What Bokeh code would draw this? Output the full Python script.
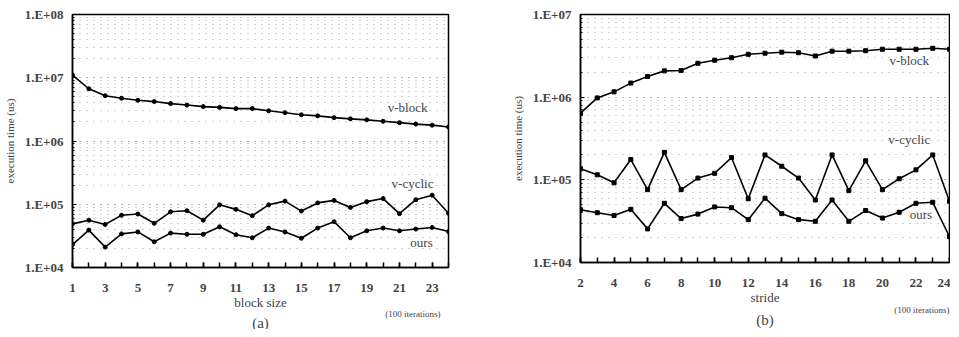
from bokeh.plotting import figure
from bokeh.layouts import row
from bokeh.models import (Range1d, FixedTicker, LogTicker, CustomJSTickFormatter, Label, Title)
from bokeh.embed import file_html
from bokeh.resources import INLINE

# ---------------- data ----------------
block_size = list(range(1, 25))
a_vblock = [1.1e7, 6.7e6, 5.2e6, 4.75e6, 4.4e6, 4.2e6, 3.9e6, 3.7e6, 3.5e6, 3.4e6,
            3.25e6, 3.25e6, 3.0e6, 2.8e6, 2.6e6, 2.5e6, 2.34e6, 2.24e6, 2.16e6,
            2.05e6, 1.95e6, 1.85e6, 1.78e6, 1.66e6]
a_vcyclic = [4.9e4, 5.6e4, 4.8e4, 6.7e4, 7.0e4, 5.0e4, 7.6e4, 7.9e4, 5.6e4, 9.8e4,
             8.3e4, 6.6e4, 9.8e4, 1.12e5, 7.8e4, 1.05e5, 1.15e5, 8.9e4, 1.1e5,
             1.23e5, 7.1e4, 1.18e5, 1.39e5, 7.2e4]
a_ours = [2.3e4, 3.9e4, 2.1e4, 3.4e4, 3.65e4, 2.55e4, 3.5e4, 3.35e4, 3.35e4, 4.4e4,
          3.3e4, 2.95e4, 4.2e4, 3.65e4, 2.9e4, 4.2e4, 5.3e4, 2.95e4, 3.8e4, 4.2e4,
          3.8e4, 4.05e4, 4.3e4, 3.7e4]

stride = list(range(2, 25))
b_vblock = [6.4e5, 9.8e5, 1.16e6, 1.48e6, 1.78e6, 2.08e6, 2.1e6, 2.57e6, 2.8e6,
            3.0e6, 3.3e6, 3.4e6, 3.5e6, 3.45e6, 3.15e6, 3.6e6, 3.6e6, 3.65e6,
            3.8e6, 3.8e6, 3.8e6, 3.9e6, 3.8e6]
b_vcyclic = [1.36e5, 1.15e5, 9.2e4, 1.76e5, 7.6e4, 2.15e5, 7.6e4, 1.05e5, 1.2e5,
             1.86e5, 5.9e4, 2.0e5, 1.46e5, 1.05e5, 5.7e4, 2.0e5, 7.4e4, 1.7e5,
             7.6e4, 1.03e5, 1.32e5, 2.0e5, 5.5e4]
b_ours = [4.35e4, 4.0e4, 3.7e4, 4.4e4, 2.55e4, 5.2e4, 3.4e4, 3.85e4, 4.7e4, 4.6e4,
          3.3e4, 6.0e4, 3.9e4, 3.3e4, 3.15e4, 5.7e4, 3.15e4, 4.25e4, 3.45e4,
          4.05e4, 5.2e4, 5.35e4, 2.05e4]

a_xticks = [1, 3, 5, 7, 9, 11, 13, 15, 17, 19, 21, 23]
b_xticks = [2, 4, 6, 8, 10, 12, 14, 16, 18, 20, 22, 24]

# series label annotations: (text, x, y)
a_labels = [("v-block", 21.5, 3.4e6), ("v-cyclic", 21.8, 2.15e5), ("ours", 22.35, 2.5e4)]
b_labels = [("v-block", 21.6, 2.75e6), ("v-cyclic", 21.6, 3.1e5), ("ours", 22.3, 3.85e4)]

SERIF = "Liberation Serif"


def make_panel(xs, series, marker, xr, yr, xticks, xlabel, labels, tag, iter_offset,
               iter_standoff, frame_w, frame_h, b_left, b_right, b_top, b_bottom):
    p = figure(y_axis_type="log", output_backend="svg", toolbar_location=None,
               frame_width=frame_w, frame_height=frame_h,
               min_border_left=b_left, min_border_right=b_right,
               min_border_top=b_top, min_border_bottom=b_bottom,
               x_range=Range1d(*xr), y_range=Range1d(*yr))
    p.background_fill_color = "white"
    p.border_fill_color = "white"
    p.outline_line_color = "black"
    p.outline_line_width = 1.5

    p.xgrid.visible = False
    p.ygrid.grid_line_color = "#a8a8a8"
    p.ygrid.grid_line_dash = "1 6"
    p.ygrid.grid_line_width = 1
    p.ygrid.minor_grid_line_color = "#a8a8a8"
    p.ygrid.minor_grid_line_dash = "1 6"
    p.ygrid.minor_grid_line_width = 1

    # x axis
    xa = p.xaxis[0]
    xa.ticker = FixedTicker(ticks=xticks, minor_ticks=list(xs))
    xa.major_tick_in = 5
    xa.major_tick_out = 0
    xa.minor_tick_in = 5
    xa.minor_tick_out = 0
    xa.axis_line_width = 1.5
    xa.major_tick_line_width = 1.5
    xa.minor_tick_line_width = 1.5
    xa.major_label_text_font = SERIF
    xa.major_label_text_font_style = "bold"
    xa.major_label_text_font_size = "13px"
    xa.major_label_standoff = 16
    xa.axis_label = xlabel
    xa.axis_label_text_font = SERIF
    xa.axis_label_text_font_style = "normal"
    xa.axis_label_text_font_size = "13px"
    xa.axis_label_standoff = 0

    # y axis
    ya = p.yaxis[0]
    ya.ticker = LogTicker(desired_num_ticks=6, num_minor_ticks=10)
    ya.formatter = CustomJSTickFormatter(
        code="return '1.E+' + String(Math.round(Math.log10(tick))).padStart(2, '0');")
    ya.major_tick_in = 4
    ya.major_tick_out = 0
    ya.minor_tick_in = 2
    ya.minor_tick_out = 0
    ya.axis_line_width = 1.5
    ya.major_label_text_font = SERIF
    ya.major_label_text_font_style = "bold"
    ya.major_label_text_font_size = "13px"
    ya.major_label_standoff = 9
    ya.axis_label = "execution time (us)"
    ya.axis_label_text_font = SERIF
    ya.axis_label_text_font_style = "normal"
    ya.axis_label_text_font_size = "11px"
    ya.axis_label_standoff = 6

    for ys in series:
        p.line(xs, ys, line_color="black", line_width=1.6)
        p.scatter(xs, ys, marker=marker, size=4, fill_color="black", line_color="black")

    for txt, lx, ly in labels:
        p.add_layout(Label(x=lx, y=ly, text=txt, text_font=SERIF, text_font_size="13px",
                           text_align="center", text_baseline="middle"))

    t1 = Title(text="(100 iterations)", align="right", text_font=SERIF,
               text_font_size="9px", text_font_style="normal", standoff=iter_standoff,
               offset=iter_offset)
    p.add_layout(t1, "below")
    t2 = Title(text=tag, align="center", text_font=SERIF, text_font_size="15px",
               text_font_style="normal", standoff=0)
    p.add_layout(t2, "below")
    return p


pa = make_panel(block_size, [a_vblock, a_vcyclic, a_ours], "circle", (1, 24), (1e4, 1e8),
                a_xticks, "block size", a_labels, "(a)", 8, -13,
                frame_w=376, frame_h=253, b_left=72, b_right=16, b_top=8, b_bottom=68)
pb = make_panel(stride, [b_vblock, b_vcyclic, b_ours], "square", (2, 24), (1e4, 1e7),
                b_xticks, "stride", b_labels, "(b)", 0, -10,
                frame_w=369, frame_h=248, b_left=116, b_right=1, b_top=14, b_bottom=67)

layout = row(pa, pb)
open("out.html", "w").write(file_html(layout, INLINE))
